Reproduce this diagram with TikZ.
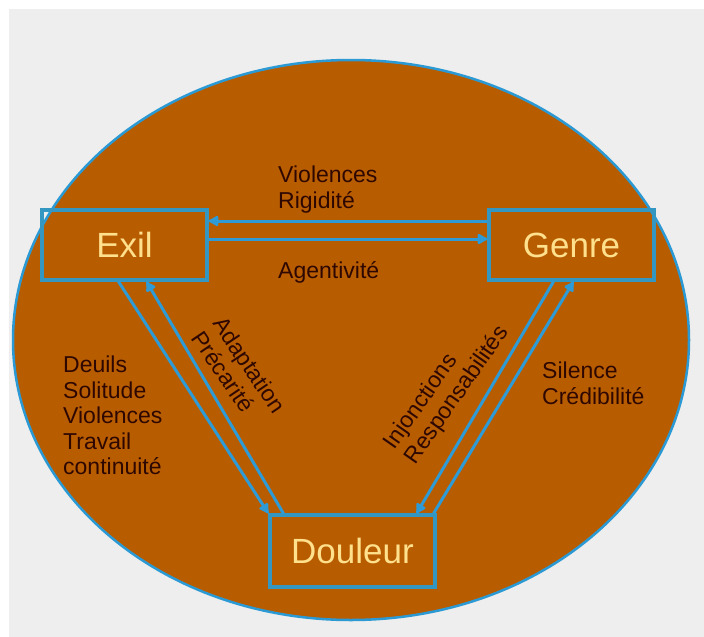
\documentclass[tikz,border=0pt]{standalone}
\usepackage{fontspec}
\setmainfont{Liberation Sans}
\usetikzlibrary{arrows.meta}
\definecolor{paper}{HTML}{EEEEEE}
\definecolor{rust}{HTML}{B85C00}
\definecolor{rim}{HTML}{2B9AD4}
\definecolor{frame}{HTML}{3397C2}
\definecolor{wire}{HTML}{2E9BD6}
\definecolor{pale}{HTML}{FFE08C}
\definecolor{ink}{HTML}{2E0800}
\tikzset{
  concept/.style={draw=frame, line width=3.2pt, minimum width=165pt, minimum height=70pt, inner sep=0pt, text=pale, font=\fontsize{35}{40}\selectfont},
  link/.style={draw=wire, line width=3pt, -{Latex[length=12pt,width=13pt,round]}},
  lab/.style={text=ink, align=left, inner sep=0pt, font=\fontsize{23}{25.5}\selectfont}
}

\begin{document}
\begin{tikzpicture}[x=1pt,y=-1pt]
  \useasboundingbox (0,0) rectangle (704,637);
  \fill[paper] (9,9) rectangle (704,637);
  \filldraw[fill=rust, draw=rim, line width=2.5pt] (351,340) ellipse [x radius=338pt, y radius=280pt];

  \node[concept] (exil) at (124.5,245) {Exil};
  \node[concept] (genre) at (571.5,245) {Genre};
  \node[concept, minimum height=72pt] (douleur) at (352.5,551) {Douleur};

  % Exil <-> Genre
  \draw[link] ([yshift=24pt]genre.west) -- ([yshift=24pt]exil.east);
  \draw[link] ([yshift=6pt]exil.east) -- ([yshift=6pt]genre.west);
  % Exil <-> Douleur
  \draw[link] ([xshift=-6pt]exil.south) -- (douleur.north west);
  \draw[link] ([xshift=15pt]douleur.north west) -- ([xshift=22pt]exil.south);
  % Genre <-> Douleur
  \draw[link] ([xshift=-18pt]genre.south) -- ([xshift=-20pt]douleur.north east);
  \draw[link] ([xshift=-3pt]douleur.north east) -- ([xshift=2pt]genre.south);

  \node[lab, anchor=north west] (harm) at (278,166) {Violences\\Rigidité};
  \node[lab, anchor=base west] (agency) at (278,278) {Agentivité};
  \node[lab, anchor=north west] (losses) at (63,356) {Deuils\\Solitude\\Violences\\Travail\\continuité};
  \node[lab, rotate=-56] (adapt) at (239,372) {Adaptation\\Précarité};
  \node[lab, rotate=55] (duty) at (447,388) {Injonctions\\Responsabilités};
  \node[lab, anchor=north west] (voice) at (542,362) {Silence\\Crédibilité};
\end{tikzpicture}
\end{document}
